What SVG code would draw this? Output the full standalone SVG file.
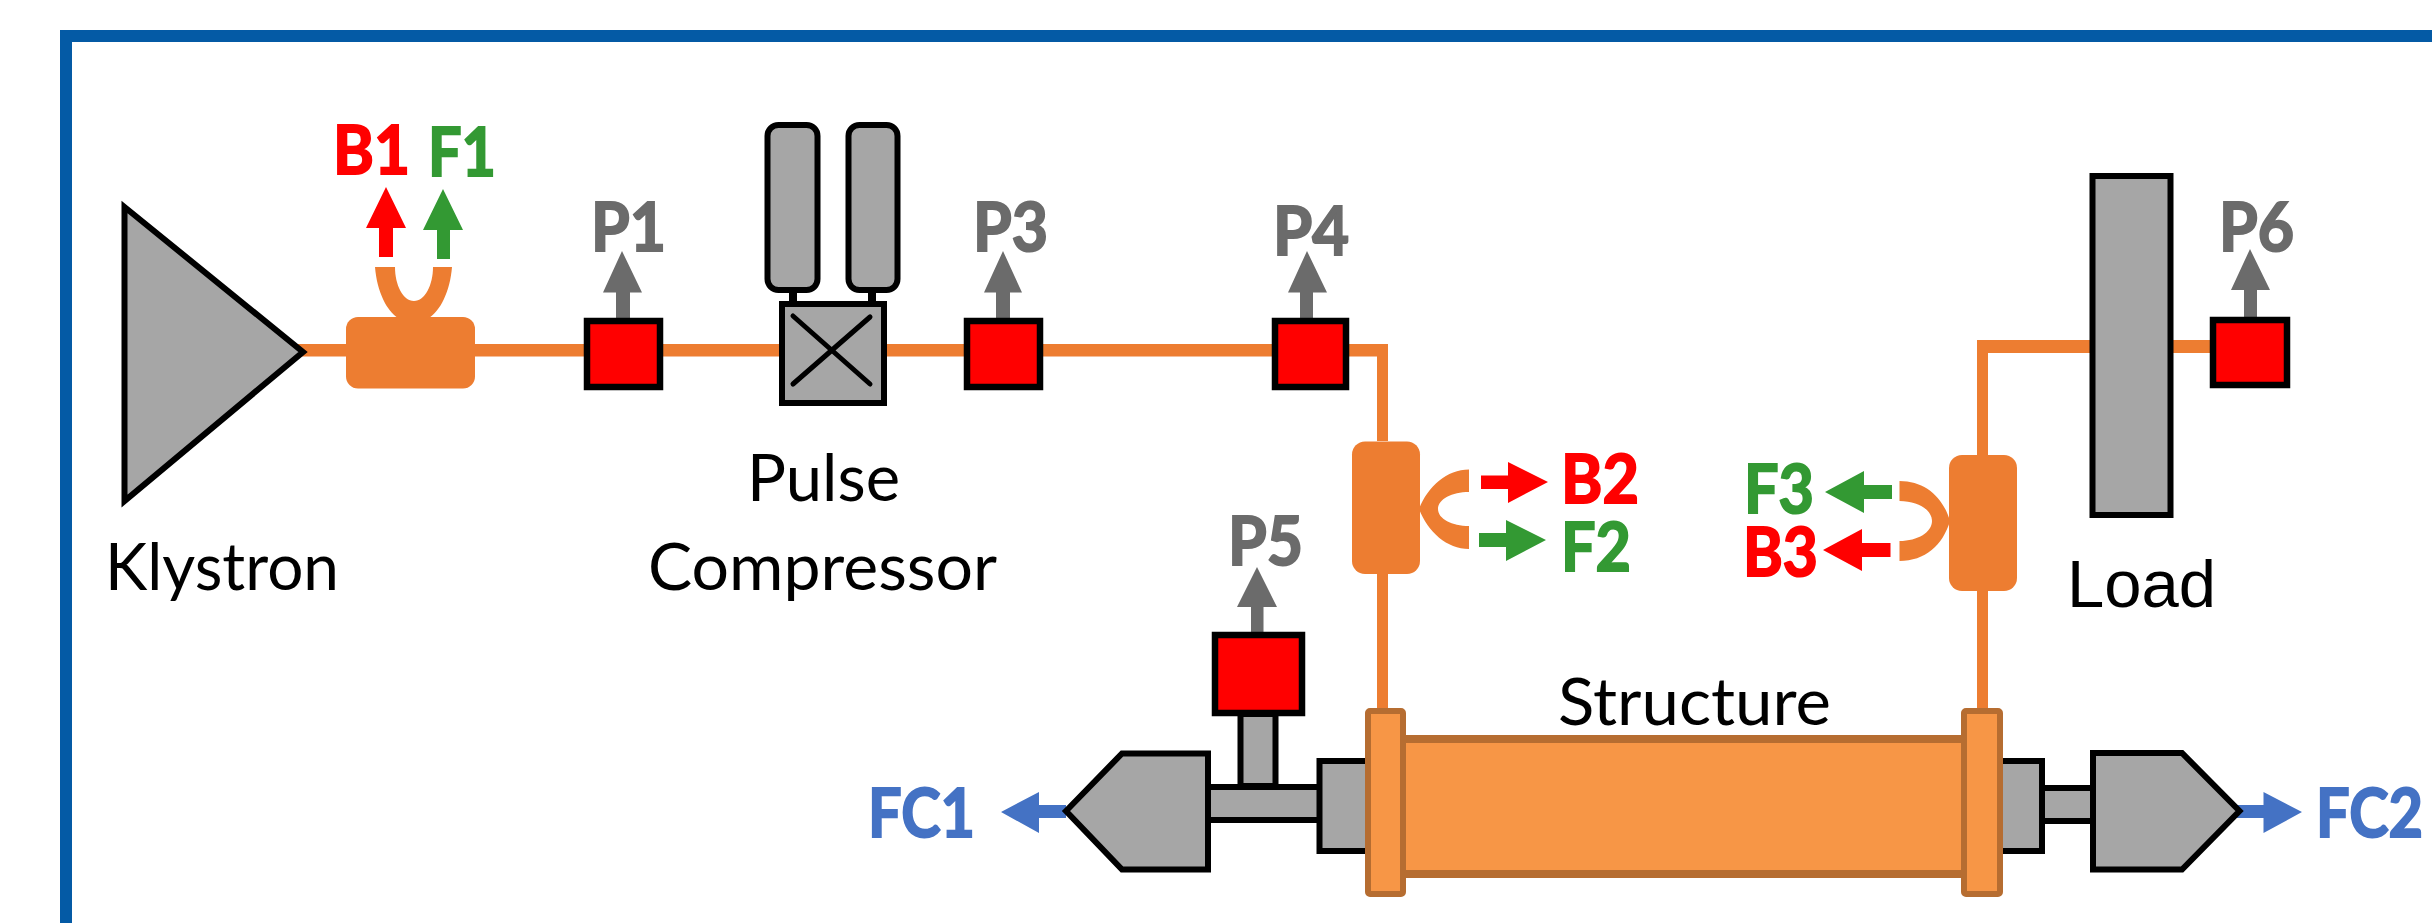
<svg xmlns="http://www.w3.org/2000/svg" width="2432" height="923" viewBox="0 0 2432 923">
<style>
.or{fill:#ED7D31}
.gr{fill:#A6A6A6;stroke:#000;stroke-width:6}
.sq{fill:#F00;stroke:#000;stroke-width:6.500}
.dk{fill:#6B6B6B}
.red{fill:#F00}
.grn{fill:#339933}
.fc{fill:#4472C4}
.fl{fill:#F79646;stroke:#B66D31;stroke-width:6}
text{font-family:Lato,"Liberation Sans",sans-serif}
.b{font-weight:700;font-size:67px;stroke-width:2}
text.red{stroke:#F00}
text.grn{stroke:#339933}
text.dk{stroke:#6B6B6B}
text.fc{stroke:#4472C4}
.l{font-size:66px;fill:#000}
</style>
<rect x="0" y="0" width="2432" height="923" fill="#fff"/>
<g id="frame"><path d="M66,923V36H2432" fill="none" stroke="#045AA5" stroke-width="12"/></g>
<g id="connectors">
<path class="or" d="M296,344H1388V441H1377V356.500H296Z"/>
<rect class="or" x="1377" y="570" width="11" height="140"/>
<path class="or" d="M2210,340H1977V457H1988V353H2210Z"/>
<rect class="or" x="1977" y="589" width="11" height="121"/>
<path class="or" d="M375,267C377,292 387,311 398,318H429C440,311 450,292 452,267H433C433,285 425,301 414,301C403,301 395,285 395,267Z"/>
<path class="or" d="M1469,469.500C1447,469.500 1428,486 1419,509C1428,532 1447,549 1469,549V526C1452,526 1438,519 1438,509C1438,499 1452,492 1469,492Z"/>
<path class="or" d="M1899.500,481V501C1918,501 1932,510 1932,521C1932,532 1918,541 1899.500,541V561C1925,561 1943,545 1950,521C1943,497 1925,481 1899.500,481Z"/>
<polygon class="red" points="386,187 406,228 393,228 393,257 379,257 379,228 366,228"/>
<polygon class="grn" points="443,189 463,230 450,230 450,259 437,259 437,230 423,230"/>
<polygon class="dk" points="622,251 642,292.500 630,292.500 630,319 616,319 616,292.500 603,292.500"/>
<polygon class="dk" points="1003,251 1022,292.500 1010,292.500 1010,319 996,319 996,292.500 984,292.500"/>
<polygon class="dk" points="1307,251 1327,292.500 1313,292.500 1313,319 1300,319 1300,292.500 1288,292.500"/>
<polygon class="dk" points="1257,567 1277,607 1263.500,607 1263.500,633 1251,633 1251,607 1237,607"/>
<polygon class="dk" points="2250,249 2270,290 2257,290 2257,318 2244,318 2244,290 2231,290"/>
<polygon class="red" points="1548,482 1508,503 1508,489 1481,489 1481,475.500 1508,475.500 1508,462"/>
<polygon class="grn" points="1546,540 1506,561 1506,547 1479,547 1479,533 1506,533 1506,520"/>
<polygon class="grn" points="1825,492 1864,471 1864,485 1892,485 1892,499 1864,499 1864,513"/>
<polygon class="red" points="1823,550 1862,529 1862,543 1890.500,543 1890.500,557 1862,557 1862,571"/>
<polygon class="fc" points="1001,812 1039,792 1039,805 1066,805 1066,818 1039,818 1039,833"/>
<polygon class="fc" points="2302,812 2263.500,792 2263.500,805 2236,805 2236,818 2263.500,818 2263.500,833"/>
</g>
<g id="klystron"><polygon class="gr" points="124.500,207 303,352 124.500,501"/>
<text class="l" x="105" y="590" textLength="234" lengthAdjust="spacingAndGlyphs">Klystron</text></g>
<g id="coupler1"><rect class="or" x="346" y="317" width="129" height="71.500" rx="12"/>
<text class="b red" x="333" y="174" textLength="77" lengthAdjust="spacingAndGlyphs">B1</text>
<text class="b grn" x="428" y="175.500" textLength="68" lengthAdjust="spacingAndGlyphs">F1</text></g>
<g id="P1"><rect class="sq" x="587" y="321" width="73" height="66"/><text class="b dk" x="591" y="251" textLength="75" lengthAdjust="spacingAndGlyphs">P1</text></g>
<g id="compressor">
<rect class="gr" x="767.500" y="125" width="50" height="165" rx="11"/>
<rect class="gr" x="848.500" y="125" width="49" height="165" rx="11"/>
<rect x="789" y="292" width="8" height="10" fill="#000"/>
<rect x="868" y="292" width="8" height="10" fill="#000"/>
<rect class="gr" x="782" y="304" width="102" height="99"/>
<path d="M793,316L870,384M870,317L793,384" stroke="#000" stroke-width="5" stroke-linecap="round" fill="none"/>
<text class="l" x="747" y="501" textLength="153" lengthAdjust="spacingAndGlyphs">Pulse</text>
<text class="l" x="648" y="590" textLength="349" lengthAdjust="spacingAndGlyphs">Compressor</text></g>
<g id="P3"><rect class="sq" x="967" y="321" width="73" height="66"/><text class="b dk" x="973" y="251" textLength="75" lengthAdjust="spacingAndGlyphs">P3</text></g>
<g id="P4"><rect class="sq" x="1275" y="321" width="71" height="66"/><text class="b dk" x="1273" y="255" textLength="76" lengthAdjust="spacingAndGlyphs">P4</text></g>
<g id="coupler2"><rect class="or" x="1352" y="441.500" width="68" height="132.500" rx="13"/>
<text class="b red" x="1561" y="503" textLength="78" lengthAdjust="spacingAndGlyphs">B2</text>
<text class="b grn" x="1561" y="571" textLength="70" lengthAdjust="spacingAndGlyphs">F2</text></g>
<g id="coupler3"><rect class="or" x="1949" y="455" width="68" height="136" rx="13"/>
<text class="b grn" x="1744" y="513" textLength="70" lengthAdjust="spacingAndGlyphs">F3</text>
<text class="b red" x="1743" y="576" textLength="75" lengthAdjust="spacingAndGlyphs">B3</text></g>
<g id="load"><rect class="gr" x="2092.500" y="176" width="78" height="339"/>
<text x="2067" y="607" font-size="67" style="font-family:'Liberation Sans',Arial,sans-serif" textLength="149" lengthAdjust="spacingAndGlyphs">Load</text></g>
<g id="P6"><rect class="sq" x="2213" y="320" width="74" height="65"/><text class="b dk" x="2219" y="251" textLength="75" lengthAdjust="spacingAndGlyphs">P6</text></g>
<g id="P5"><rect class="gr" x="1240.500" y="714" width="35" height="72"/>
<rect class="sq" x="1215" y="635" width="87" height="78"/>
<text class="b dk" x="1228" y="565" textLength="75" lengthAdjust="spacingAndGlyphs">P5</text></g>
<g id="fc1"><rect class="gr" x="1205" y="787" width="115" height="33"/>
<rect class="gr" x="1319.500" y="761" width="60" height="90"/>
<polygon class="gr" points="1066,811 1122,753.500 1208,753.500 1208,869.500 1122,869.500"/>
<text class="b fc" x="868" y="837" textLength="107" lengthAdjust="spacingAndGlyphs">FC1</text></g>
<g id="fc2"><rect class="gr" x="2040" y="788" width="54" height="33"/>
<rect class="gr" x="1990" y="761" width="52" height="90"/>
<polygon class="gr" points="2093,753 2182,753 2239.500,811 2182,869.500 2093,869.500"/>
<text class="b fc" x="2316" y="837" textLength="107" lengthAdjust="spacingAndGlyphs">FC2</text></g>
<g id="structure">
<rect x="1400" y="739" width="565" height="135" fill="#F79646" stroke="#B66D31" stroke-width="8"/>
<rect class="fl" x="1368" y="711" width="35" height="183" rx="2"/>
<rect class="fl" x="1964" y="711" width="36" height="183" rx="2"/>
<text class="l" x="1558" y="725" textLength="273" lengthAdjust="spacingAndGlyphs">Structure</text></g>
</svg>
